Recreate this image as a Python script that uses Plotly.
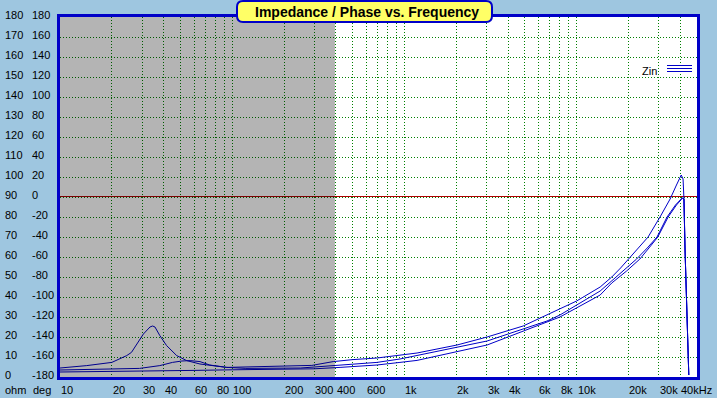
import math
import plotly.graph_objects as go

# ---------------- data ----------------
u_freq = [10, 14.3, 20, 22.8, 24.4, 26, 27.9, 30.5, 33.3, 34.5, 35.6, 38, 41.6, 47.6, 54.4, 65, 93, 150, 290,
          386, 502, 693, 906, 1184, 2020, 3020, 4890, 8000, 10000, 13700, 16000, 18000, 20000, 23000, 26000,
          30500, 34900, 38000, 40500, 41500, 42000, 42600, 43100, 43600, 44200, 44800]
u_ohm = [4.5, 5.7, 7.3, 9.3, 10.7, 12.3, 16.5, 21.5, 25, 25.5, 25, 20.7, 15.7, 10.7, 8.2, 6.5, 4.8, 5.3, 5.8,
         7.7, 8.7, 9.5, 10.7, 12, 16, 20, 25.5, 34, 38, 45, 50, 54.5, 59, 64.5, 70,
         80, 89, 96, 101, 99, 89, 64, 50, 29, 14, 1]

m_freq = [10, 20, 29, 38, 45, 51, 57, 65, 74, 93, 120, 250, 423, 693, 942, 3020, 6730, 8000, 13700, 16000,
          19000, 22300, 25700, 29300, 33500, 37500, 41000, 42000, 42600, 43100, 43600, 44200, 44800]
m_ohm = [3.5, 3.8, 4.3, 5.7, 7.3, 8.0, 8.2, 7.7, 6, 4.8, 4.3, 4.5, 6, 7.3, 9, 18, 28, 31, 43, 48,
         53.5, 59, 64.5, 70, 80, 86, 89.5, 89, 64, 50, 29, 14, 1]

l_freq = [10, 30, 60, 100, 200, 300, 423, 693, 942, 1184, 3020, 6730, 8000, 13700, 16000, 19500, 23300,
          26300, 29600, 34000, 38000, 41200, 42000, 42600, 43100, 43600, 44200, 44800]
l_ohm = [2.5, 2.8, 3.3, 3.6, 3.9, 4.1, 4.8, 6, 7.3, 8.3, 16, 27.5, 30, 41, 47, 53, 59,
         64.5, 70, 80, 86, 89.5, 89, 64, 50, 29, 14, 1]

ohm_ticks = list(range(0, 181, 10))
deg_ticks = list(range(-180, 181, 20))
freq_ticks = [10, 20, 30, 40, 60, 80, 100, 200, 300, 400, 600, 1000, 2000, 3000, 4000, 6000, 8000,
              10000, 20000, 30000, 40000]
freq_labels = ["10", "20", "30", "40", "60", "80", "100", "200", "300", "400", "600", "1k", "2k", "3k",
               "4k", "6k", "8k", "10k", "20k", "30k", "40kHz"]
shade_range = [10, 395]
x_range = [10, 50000]

# ---------------- styling / layout ----------------
W, H = 717, 398
ML, MR, MT, MB = 60, 20, 17, 21
PW, PH = W - ML - MR, H - MT - MB
BG = "#9EC6E0"
CURVE = "#0000C8"
FONT = "Liberation Sans, Arial, sans-serif"
LX0, LX1 = math.log10(x_range[0]), math.log10(x_range[1])


def px(xp):
    return (xp - ML) / PW


def py(yp):
    return (H - MB - yp) / PH


fig = go.Figure()
for fr, oh in [(u_freq, u_ohm), (m_freq, m_ohm), (l_freq, l_ohm)]:
    fig.add_trace(go.Scatter(x=fr, y=oh, mode="lines", line=dict(color=CURVE, width=1),
                             showlegend=False, hoverinfo="skip"))

shapes = []
# 0 deg reference line (90 ohm), nudged half a pixel for a crisp 1px line
half_px = 0.5 * 180 / PH
shapes.append(dict(type="line", xref="paper", yref="y", x0=0, x1=1, y0=90 + half_px, y1=90 + half_px,
                   line=dict(color="#B00000", width=1), layer="between"))
# shaded region (darkening overlay above traces)
shade_frac = (math.log10(shade_range[1]) - LX0) / (LX1 - LX0)
shapes.append(dict(type="rect", xref="x domain", yref="y domain", x0=0, x1=shade_frac, y0=0, y1=1,
                   fillcolor="rgba(0,0,0,0.294)", line=dict(width=0), layer="above"))
# title box (rounded)
x0, x1 = px(237), px(492)
yt, yb = py(1), py(22)
rx, ry = 6 / PW, 6 / PH
path = (f"M {x0+rx},{yt} L {x1-rx},{yt} Q {x1},{yt} {x1},{yt-ry} L {x1},{yb+ry} Q {x1},{yb} {x1-rx},{yb} "
        f"L {x0+rx},{yb} Q {x0},{yb} {x0},{yb+ry} L {x0},{yt-ry} Q {x0},{yt} {x0+rx},{yt} Z")
shapes.append(dict(type="path", xref="paper", yref="paper", path=path, fillcolor="#FFFF66",
                   line=dict(color="#0000C8", width=2), layer="above"))
# legend symbol lines
for yy in [65.5, 68.5, 71.5]:
    shapes.append(dict(type="line", xref="paper", yref="paper", x0=px(667), x1=px(692), y0=py(yy), y1=py(yy),
                       line=dict(color=CURVE, width=1), layer="above"))

ann = []
ann.append(dict(text="<b>Impedance / Phase vs. Frequency</b>", xref="paper", yref="paper", x=px(367),
                y=py(11.5), xanchor="center", yanchor="middle", showarrow=False,
                font=dict(family=FONT, size=14, color="black")))
ann.append(dict(text="Zin", xref="paper", yref="paper", x=px(640), y=py(71), xanchor="left",
                yanchor="middle", showarrow=False, font=dict(family=FONT, size=11, color="black")))
for o in ohm_ticks:
    d = -180 + 2 * o
    ann.append(dict(text=str(o), xref="paper", yref="y", x=0, y=o, xshift=-57, yshift=2, xanchor="left",
                    yanchor="middle", showarrow=False, font=dict(family=FONT, size=11, color="black")))
    ann.append(dict(text=str(d), xref="paper", yref="y", x=0, y=o, xshift=-30, yshift=2, xanchor="left",
                    yanchor="middle", showarrow=False, font=dict(family=FONT, size=11, color="black")))
for f, lab in zip(freq_ticks, freq_labels):
    ann.append(dict(text=lab, xref="x", yref="paper", x=math.log10(f), y=0, xshift=-1, yshift=-5,
                    xanchor="left", yanchor="top", showarrow=False,
                    font=dict(family=FONT, size=11, color="black")))
for lab, xs in [("ohm", -57), ("deg", -29)]:
    ann.append(dict(text=lab, xref="paper", yref="paper", x=0, y=0, xshift=xs, yshift=-5, xanchor="left",
                    yanchor="top", showarrow=False, font=dict(family=FONT, size=11, color="black")))

fig.update_layout(
    width=W, height=H, autosize=False,
    margin=dict(l=ML, r=MR, t=MT, b=MB, pad=0),
    paper_bgcolor=BG, plot_bgcolor="white",
    shapes=shapes, annotations=ann, showlegend=False,
    xaxis=dict(type="log", range=[LX0, LX1], dtick="D1",
               showticklabels=False, ticks="", showgrid=True, gridcolor="#008000", gridwidth=1,
               griddash="1px,2px", showline=True, linecolor="#0000C8", linewidth=3, mirror=True,
               zeroline=False, fixedrange=True),
    yaxis=dict(range=[0, 180], dtick=10, showticklabels=False, ticks="", showgrid=True,
               gridcolor="#008000", gridwidth=1, griddash="1px,2px", showline=True,
               linecolor="#0000C8", linewidth=3, mirror=True, zeroline=False, fixedrange=True),
)

fig.write_html("out.html", config={"displayModeBar": False},
               post_script="document.body.style.margin='0px';document.body.style.overflow='hidden';")
